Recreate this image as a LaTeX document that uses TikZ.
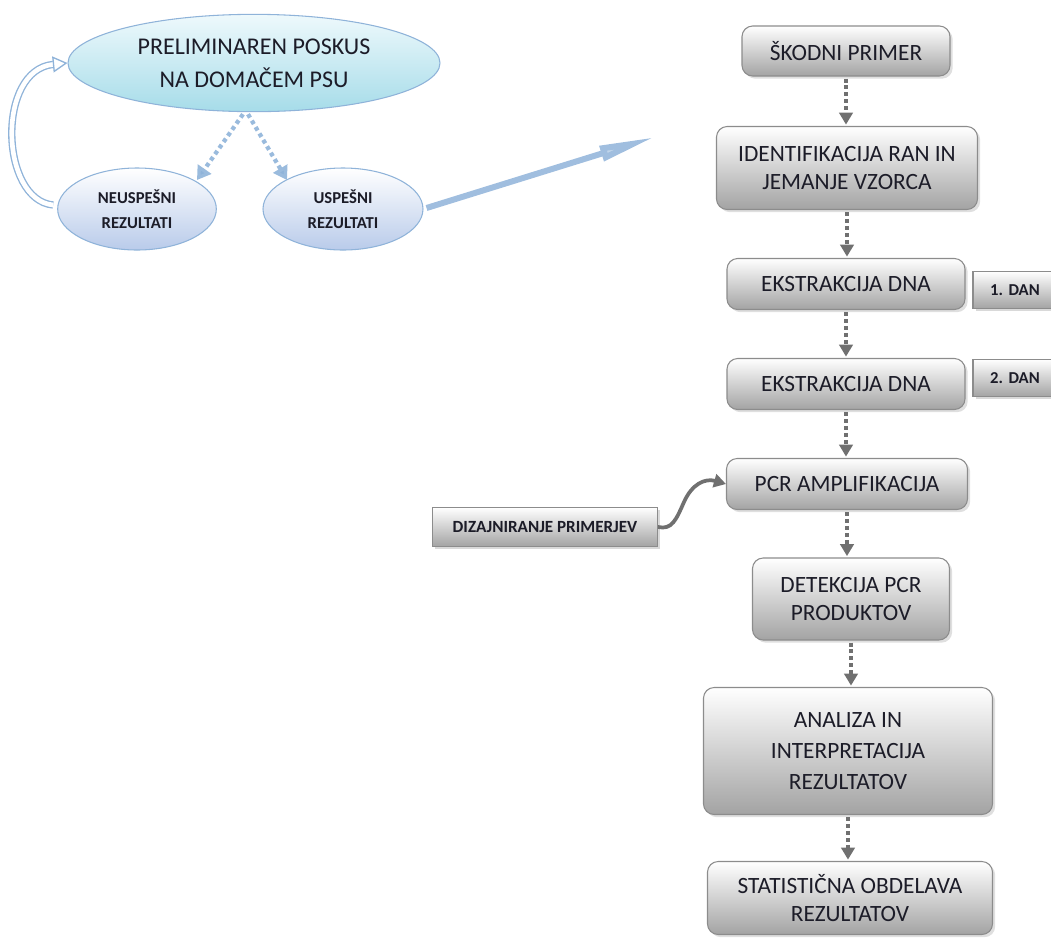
\documentclass[tikz,border=0pt]{standalone}
\usepackage{fontspec}
\setmainfont{Carlito}
\usetikzlibrary{shapes.geometric,arrows.meta,shadows,calc}
\definecolor{boxedge}{HTML}{8C8C8C}
\definecolor{boxbot}{HTML}{A3A3A3}
\definecolor{arrgray}{HTML}{707070}
\definecolor{ellblue}{HTML}{8FB3D9}
\definecolor{cyanbot}{HTML}{A6DCE9}
\definecolor{cyantop}{HTML}{EEF9FC}
\definecolor{bluebot}{HTML}{B9CBEA}
\definecolor{txt}{HTML}{1C1C28}
\begin{document}
\begin{tikzpicture}[x=0.75pt,y=-0.75pt,
  stepbox/.style={draw=boxedge, line width=0.8pt, rounded corners=8pt,
    top color=white, bottom color=boxbot, align=center, text=txt,
    font=\fontsize{17.5}{21.5}\selectfont, inner sep=2pt,
    drop shadow={opacity=0.25, shadow xshift=2pt, shadow yshift=-2pt}},
  sidebox/.style={draw=boxedge, line width=0.8pt,
    top color=white, bottom color=boxbot, align=center, text=txt, inner sep=1pt,
    drop shadow={opacity=0.3, shadow xshift=2pt, shadow yshift=-2pt}},
  flowarrow/.style={draw=arrgray, line width=3pt, dash pattern=on 3pt off 2.2pt,
    -{Triangle[length=9pt,width=10pt,fill=arrgray]}, shorten >=1pt},
  bluedot/.style={draw=ellblue!90, line width=3.2pt, dash pattern=on 3pt off 2.6pt,
    -{Triangle[length=10pt,width=12pt,fill=ellblue]}},
  bigell/.style={ellipse, draw=ellblue, line width=0.8pt, top color=cyantop,
    bottom color=cyanbot, align=center, text=txt, inner sep=0pt},
  smallell/.style={ellipse, draw=ellblue, line width=0.8pt, top color=white,
    bottom color=bluebot, align=center, text=txt, inner sep=0pt,
    font=\bfseries\fontsize{12.5}{19}\selectfont},
]
\useasboundingbox (0,0) rectangle (1051,940);

% ellipses
\node[bigell, minimum width=279pt, minimum height=73pt,
  font=\fontsize{18}{25}\selectfont] (pre) at (254,63)
  {PRELIMINAREN POSKUS\\NA DOMAČEM PSU};
\node[smallell, minimum width=119pt, minimum height=61.5pt] (neu) at (137,209)
  {NEUSPEŠNI\\REZULTATI};
\node[smallell, minimum width=120pt, minimum height=61.5pt] (usp) at (343,209)
  {USPEŠNI\\REZULTATI};

% main flow
\node[stepbox, minimum width=156pt, minimum height=37.5pt] (s1) at (846,51) {ŠKODNI PRIMER};
\node[stepbox, minimum width=195.75pt, minimum height=62.25pt] (s2) at (847,168)
  {IDENTIFIKACIJA RAN IN\\JEMANJE VZORCA};
\node[stepbox, minimum width=178.5pt, minimum height=38.25pt] (s3) at (846,284) {EKSTRAKCIJA DNA};
\node[stepbox, minimum width=178.5pt, minimum height=38.25pt] (s4) at (846,384) {EKSTRAKCIJA DNA};
\node[stepbox, minimum width=180.75pt, minimum height=38.25pt] (s5) at (847,484) {PCR AMPLIFIKACIJA};
\node[stepbox, minimum width=147.75pt, minimum height=61.5pt] (s6) at (851,599)
  {DETEKCIJA PCR\\PRODUKTOV};
\node[stepbox, minimum width=216.75pt, minimum height=95.25pt, font=\fontsize{17.5}{23.5}\selectfont] (s7) at (848,751)
  {ANALIZA IN\\INTERPRETACIJA\\REZULTATOV};
\node[stepbox, minimum width=213.75pt, minimum height=54.75pt] (s8) at (850,898)
  {STATISTIČNA OBDELAVA\\REZULTATOV};

% side boxes
\node[sidebox, minimum width=63pt, minimum height=28pt, font=\bfseries\fontsize{12.5}{14}\selectfont] (d1) at (1015,290) {1.\,\,DAN};
\node[sidebox, minimum width=63pt, minimum height=28pt, font=\bfseries\fontsize{12.5}{14}\selectfont] (d2) at (1015,378) {2.\,\,DAN};
\node[sidebox, minimum width=168.75pt, minimum height=29.25pt, font=\bfseries\fontsize{12.8}{14}\selectfont] (dz) at (545,527) {DIZAJNIRANJE PRIMERJEV};

% flow arrows
\foreach \a/\b in {s1/s2,s2/s3,s3/s4,s4/s5,s5/s6,s6/s7,s7/s8}
  \draw[flowarrow] ($(\a.south)+(0,2)$) -- (\a.south |- \b.north);

% curved gray arrow
\draw[draw=arrgray, line width=2.8pt, -{Triangle[length=9pt,width=10pt]}]
  (dz.east) .. controls (672,530) and (676,520) .. (684,502)
  .. controls (692,484) and (705,478) .. (s5.west);

% blue dotted arrows
\draw[bluedot] ($(pre.south)+(-11,2)$) -- (197,180);
\draw[bluedot] ($(pre.south)+(-6,2)$) -- (287,180);

% curved return arrow
\draw[draw=ellblue, line width=1pt, double=white, double distance=3.5pt,
  -{Triangle[open,length=11pt,width=12pt,fill=white]}]
  (neu.west) ++(-4,-4) .. controls (0,200) and (-4,70) .. (pre.west);

% long arrow to right
\coordinate (tip) at (655,137);
\draw[draw=ellblue!85, line width=4.5pt,
  -{Triangle[length=42pt,width=11pt,fill=ellblue!55]}]
  ($(usp.east)+(3,-1)$) -- (tip);
\end{tikzpicture}
\end{document}
